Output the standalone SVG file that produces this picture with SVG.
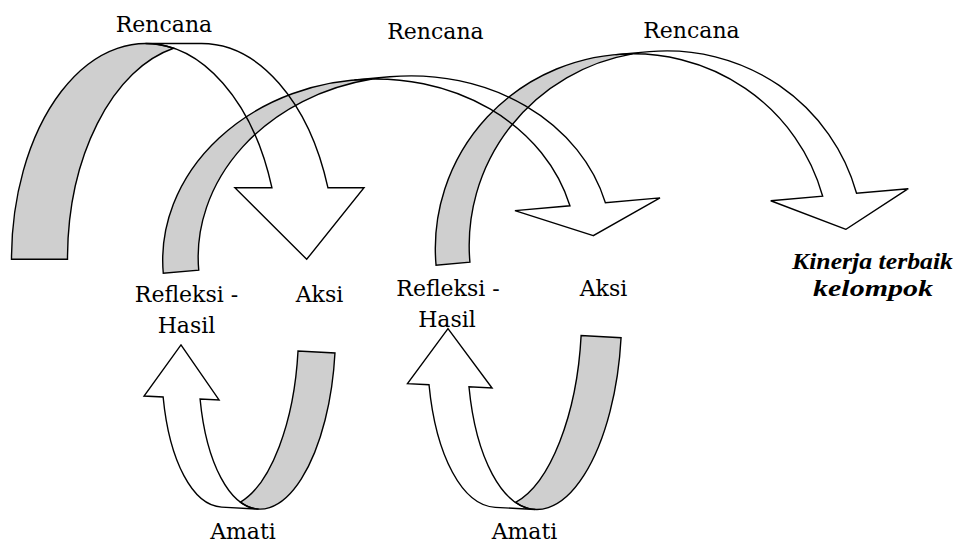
<svg xmlns="http://www.w3.org/2000/svg" width="959" height="543" viewBox="0 0 959 543">
  <style>
    .shaft { fill: #ffffff; stroke: #000000; stroke-width: 1.4; stroke-linejoin: miter; }
    .tail  { fill: #000000; fill-opacity: 0.19; stroke: #000000; stroke-width: 1.4; stroke-linejoin: miter; }
    .lbl   { font-family: "DejaVu Serif", "Liberation Serif", serif; font-size: 22px; text-anchor: middle; fill: #000000; }
    .goal  { font-family: "Liberation Serif", "DejaVu Serif", serif; font-size: 24px; font-weight: bold; font-style: italic; text-anchor: middle; fill: #000000; }
  </style>

  <rect x="0" y="0" width="959" height="543" fill="#ffffff"/>

  <!-- curved block arrows: white shaft with head, shaded back band -->
  <g id="connectors">
    <!-- cycle 1: plan arc into action -->
    <g id="arc-plan-1">
      <path class="shaft" d="M306.7,259.3 L234.9,187.7 L271.91,187.7 A134,215.8 0 0 0 145.5,43.5 L201.5,43.5 A134,215.8 0 0 1 327.91,187.7 L364,187.7 Z"/>
      <path class="tail" d="M11.5,259.3 A134,215.8 0 0 1 173.5,48.26 A134,215.8 0 0 0 67.5,259.3 Z"/>
    </g>
    <!-- cycle 2: reflection arc into next action -->
    <g id="arc-plan-2" transform="rotate(-5 380 170)">
      <path class="shaft" d="M586.7,254 L510.9,222.2 L566.09,222.2 A207.2,176 0 0 0 362.3,78 L397.9,78 A207.2,176 0 0 1 601.69,222.2 L656.5,222.2 Z"/>
      <path class="tail" d="M155.1,254 A207.2,176 0 0 1 380.1,78.65 A207.2,176 0 0 0 190.7,254 Z"/>
    </g>
    <!-- cycle 3: reflection arc into best group performance -->
    <g id="arc-plan-3" transform="rotate(-5 650 160)">
      <path class="shaft" d="M839.2,246.1 L766.7,211.1 L818.87,211.1 A197.2,194.1 0 0 0 624.9,52 L658.9,52 A197.2,194.1 0 0 1 852.87,211.1 L904.8,211.1 Z"/>
      <path class="tail" d="M427.7,246.1 A197.2,194.1 0 0 1 641.9,52.72 A197.2,194.1 0 0 0 461.7,246.1 Z"/>
    </g>
    <!-- observe loop 1: action down through observe, up to reflection -->
    <g id="arc-observe-1" transform="translate(240 430) rotate(183)">
      <path class="shaft" d="M63.4,81.9 L22.5,28.9 L41.49,28.9 A68.07,159.9 0 0 0 -22.73,-78 L14.27,-78 A68.07,159.9 0 0 1 78.49,28.9 L97.6,28.9 Z"/>
      <path class="tail" d="M-90.8,81.9 A68.07,159.9 0 0 1 -4.23,-71.98 A68.07,159.9 0 0 0 -53.8,81.9 Z"/>
    </g>
    <!-- observe loop 2 -->
    <g id="arc-observe-2" transform="translate(510 420) rotate(183)">
      <path class="shaft" d="M66.7,88 L19.6,31 L42.71,31 A76.72,176 0 0 0 -29.88,-88 L10.12,-88 A76.72,176 0 0 1 82.71,31 L104.3,31 Z"/>
      <path class="tail" d="M-106.6,88 A76.72,176 0 0 1 -9.88,-81.91 A76.72,176 0 0 0 -66.6,88 Z"/>
    </g>
  </g>

  <!-- stage labels -->
  <g id="rencana-1"><text class="lbl" x="164" y="31.7">Rencana</text></g>
  <g id="rencana-2"><text class="lbl" x="435.5" y="38.5">Rencana</text></g>
  <g id="rencana-3"><text class="lbl" x="691.5" y="38.3">Rencana</text></g>

  <g id="refleksi-1">
    <text class="lbl" x="186.5" y="302">Refleksi -</text>
    <text class="lbl" x="186.5" y="333">Hasil</text>
  </g>
  <g id="aksi-1"><text class="lbl" x="319.5" y="302">Aksi</text></g>

  <g id="refleksi-2">
    <text class="lbl" x="448" y="296">Refleksi -</text>
    <text class="lbl" x="447" y="327">Hasil</text>
  </g>
  <g id="aksi-2"><text class="lbl" x="603.5" y="296">Aksi</text></g>

  <g id="amati-1"><text class="lbl" x="243" y="539">Amati</text></g>
  <g id="amati-2"><text class="lbl" x="524.5" y="539">Amati</text></g>

  <g id="kinerja">
    <text class="goal" x="872.5" y="269" textLength="161" lengthAdjust="spacingAndGlyphs">Kinerja terbaik</text>
    <text class="goal" x="873" y="296" textLength="120" lengthAdjust="spacingAndGlyphs">kelompok</text>
  </g>
</svg>
